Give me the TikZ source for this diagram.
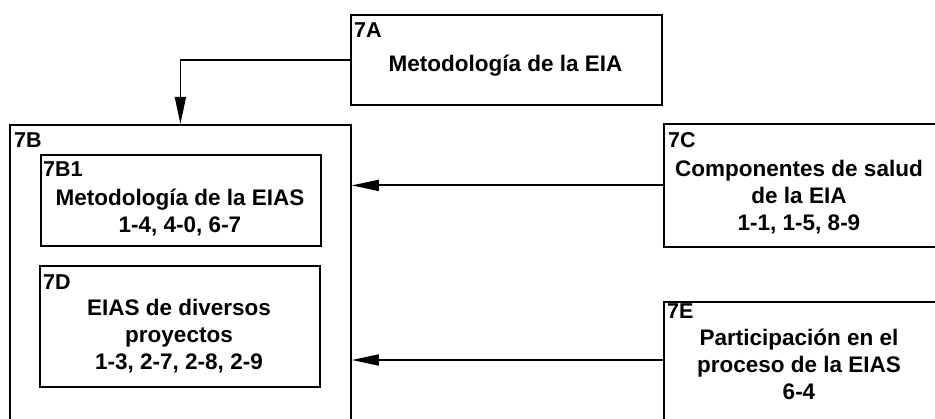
\documentclass[tikz,border=0pt]{standalone}
\usepackage{fontspec}
\setmainfont{Liberation Sans}
\usetikzlibrary{arrows.meta}
\newcommand\lblfont{\fontsize{21.5}{26}\selectfont\bfseries}
\newcommand\txtfont{\fontsize{22.5}{27}\selectfont\bfseries}
\tikzset{
  box/.style={draw, rectangle, line width=1.8pt, inner sep=0pt, anchor=north west},
  lbl/.style={font=\lblfont, anchor=base west, inner sep=0pt},
  txt/.style={font=\txtfont, align=center, anchor=base, inner sep=0pt},
  conn/.style={line width=1.8pt, -{Triangle[length=27pt,width=11pt]}}
}
\begin{document}
\begin{tikzpicture}[x=1pt,y=-1pt]
\useasboundingbox (0,0) rectangle (935,419);
\clip (0,0) rectangle (935,419);
% boxes
\node[box, minimum width=311pt, minimum height=90pt] (A) at (350,14) {};
\node[box, minimum width=341pt, minimum height=330pt] (B) at (9,124) {};
\node[box, minimum width=280pt, minimum height=91pt] (B1) at (40,154) {};
\node[box, minimum width=280pt, minimum height=121pt] (D) at (39,265) {};
\node[box, minimum width=300pt, minimum height=123pt] (C) at (663,123) {};
\node[box, minimum width=300pt, minimum height=160pt] (E) at (663,301) {};
% labels
\node[lbl] (Al) at (354,38) {7A};
\node[lbl] (Bl) at (14,148) {7B};
\node[lbl] (B1l) at (43,177) {7B1};
\node[lbl] (Dl) at (43,290) {7D};
\node[lbl] (Cl) at (668,148) {7C};
\node[lbl] (El) at (667,319) {7E};
% texts (anchor = baseline of last line)
\node[txt] (At) at (505.5,72) {Metodología de la EIA};
\node[txt] (B1t) at (180,233) {Metodología de la EIAS\\1-4, 4-0, 6-7};
\node[txt] (Dt) at (179,370) {EIAS de diversos\\proyectos\\1-3, 2-7, 2-8, 2-9};
\node[txt] (Ct) at (799,231) {Componentes de salud\\de la EIA\\1-1, 1-5, 8-9};
\node[txt] (Et) at (799,400) {Participación en el\\proceso de la EIAS\\6-4};
% connectors
\coordinate (Ein) at (663,360);
\draw[conn] (A.west) -| (B.north);
\draw[conn] (C.west) -- (C.west -| B.east);
\draw[conn] (Ein) -- (Ein -| B.east);
\end{tikzpicture}
\end{document}
